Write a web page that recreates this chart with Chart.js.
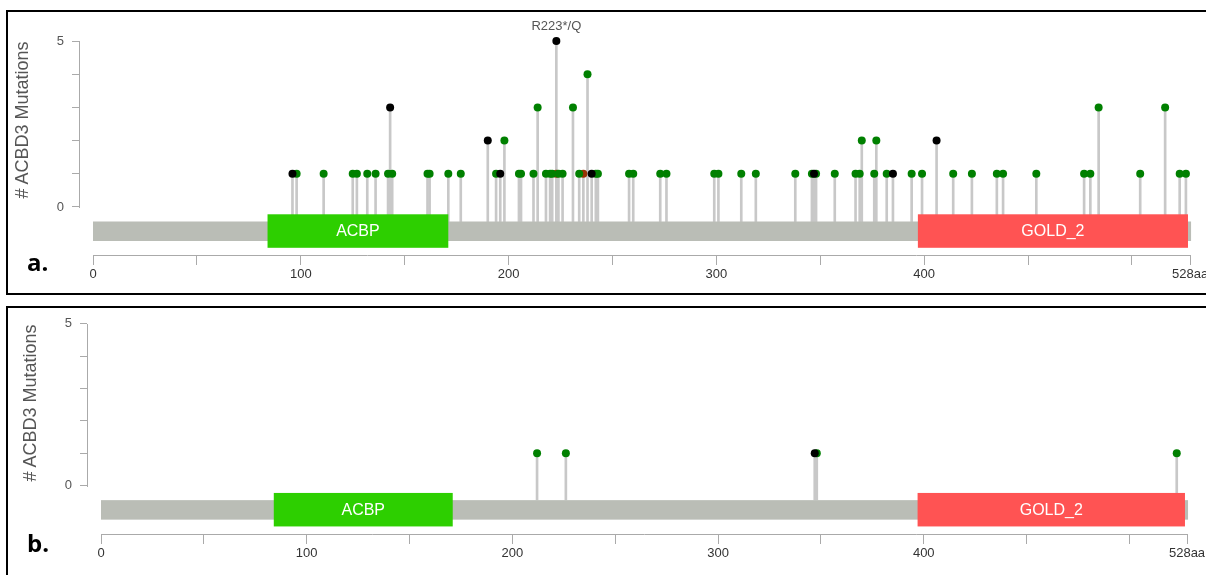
<!DOCTYPE html>
<html>
<head>
<meta charset="utf-8">
<script src="https://cdn.jsdelivr.net/npm/chart.js@4.4.1/dist/chart.umd.min.js"></script>
<style>
  html, body { margin: 0; padding: 0; background: #fff; overflow: hidden; }
  body { width: 1206px; height: 575px; position: relative; font-family: "Liberation Sans", Arial, sans-serif; }
  .panel { position: absolute; left: 6px; width: 1220px; border: 2px solid #000; }
  #panelA { top: 10px; height: 281px; }
  #panelB { top: 306px; height: 280px; }
  .panel canvas { position: absolute; left: 0; top: 0; }
  .ytitle { position: absolute; width: 200px; height: 20px; line-height: 20px; text-align: center;
            font-size: 18px; color: #555; transform: rotate(-90deg); white-space: nowrap; }
  .tag { position: absolute; font-family: "Open Sans", sans-serif; font-weight: 700; font-size: 24px; line-height: 1; color: #000; }
</style>
</head>
<body>
<div class="panel" id="panelA"><canvas id="chartA" width="1220" height="281"></canvas></div>
<div class="panel" id="panelB"><canvas id="chartB" width="1220" height="270"></canvas></div>
<div class="ytitle" style="left:-78px; top:110px;"># ACBD3 Mutations</div>
<div class="ytitle" style="left:-70px; top:393px;"># ACBD3 Mutations</div>
<div class="tag" style="left:27px; top:250px;">a.</div>
<div class="tag" style="left:27px; top:531px;">b.</div>
<script>
// protein
const proteinLength = 528;
const domainNames = ['ACBP', 'GOLD_2'];
const domainStarts = [84, 397];
const domainEnds = [171, 527];

// panel a - mutations per position
const missensePosA = [98, 111, 125, 127, 132, 136, 142, 144, 161, 162,
                      171, 177, 194, 198, 205, 206, 212, 214, 218, 220,
                      221, 224, 226, 231, 234, 238, 242, 243, 258, 260,
                      273, 276, 299, 301, 312, 319, 338, 346, 348, 357,
                      367, 369, 370, 376, 377, 382, 394, 399, 414, 423,
                      435, 438, 454, 477, 480, 484, 504, 516, 523, 526];
const missenseCountA = [1, 1, 1, 1, 1, 1, 1, 1, 1, 1,
                        1, 1, 1, 2, 1, 1, 1, 3, 1, 1,
                        1, 1, 1, 3, 1, 4, 1, 1, 1, 1,
                        1, 1, 1, 1, 1, 1, 1, 1, 1, 1,
                        1, 1, 2, 1, 2, 1, 1, 1, 1, 1,
                        1, 1, 1, 1, 1, 3, 1, 3, 1, 1];
const truncPosA = [96, 143, 190, 196, 223, 240, 347, 385, 406];
const truncCountA = [1, 3, 2, 1, 5, 1, 1, 1, 2];
const inframePosA = [223, 236];
const inframeCountA = [1, 1];
const labelPosA = [223];
const labelTextA = ['R223*/Q'];

// panel b
const missensePosB = [212, 226, 348, 523];
const missenseCountB = [1, 1, 1, 1];
const truncPosB = [347];
const truncCountB = [1];
const inframePosB = [];
const inframeCountB = [];

// axes
const xTickValues = [0, 50, 100, 150, 200, 250, 300, 350, 400, 450, 500, 528];
const xTickLabels = ['0', '', '100', '', '200', '', '300', '', '400', '', '', '528aa'];
const yTickValues = [0, 1, 2, 3, 4, 5];
const yTickLabels = ['0', '', '', '', '', '5'];

const domainColors = ['#2dcf00', '#ff5353'];
const BACKBONE = '#babdb6';
const AXIS = '#aaaaaa';
const STEM = '#c8c8c8';

const toPoints = (pos, cnt) => pos.map((p, i) => ({x: p, y: cnt[i]}));

const lollipopDecor = {
    id: 'lollipopDecor',
    afterDatasetsDraw(chart, args, opts) {
        const {ctx, scales: {x, y}} = chart;
        const y0 = y.getPixelForValue(0);
        ctx.save();
        // backbone
        ctx.fillStyle = BACKBONE;
        const bx = x.getPixelForValue(0);
        ctx.fillRect(bx, y0 + 14.5, x.getPixelForValue(proteinLength) - bx + 1, 19.5);
        // domains
        ctx.font = '16px "Liberation Sans", Arial, sans-serif';
        ctx.textAlign = 'center';
        ctx.textBaseline = 'middle';
        domainNames.forEach((name, i) => {
            const x1 = x.getPixelForValue(domainStarts[i]);
            const x2 = x.getPixelForValue(domainEnds[i]);
            ctx.fillStyle = domainColors[i];
            ctx.fillRect(x1, y0 + 7.3, x2 - x1, 33.5);
            ctx.fillStyle = '#fff';
            ctx.fillText(name, (x1 + x2) / 2, y0 + 24.5);
        });
        // labels over lollipops
        ctx.font = '13px "Liberation Sans", Arial, sans-serif';
        ctx.fillStyle = '#555';
        ctx.textBaseline = 'alphabetic';
        (opts.labelPos || []).forEach((p, i) => {
            const top = Math.max(...chart.data.datasets[3].data.filter(d => d.x === p).map(d => d.y));
            ctx.fillText(opts.labelText[i], x.getPixelForValue(p), y.getPixelForValue(top) - 11);
        });
        ctx.restore();
    },
    afterDraw(chart) {
        const {ctx, chartArea, scales: {x, y}} = chart;
        ctx.save();
        ctx.strokeStyle = AXIS;
        ctx.lineWidth = 1;
        ctx.beginPath();
        const lx = Math.round(chartArea.left) + 0.5;
        ctx.moveTo(lx, Math.round(y.getPixelForValue(5)));
        ctx.lineTo(lx, Math.round(y.getPixelForValue(0)) + 1);
        const by = Math.round(chartArea.bottom) + 0.5;
        ctx.moveTo(Math.round(x.getPixelForValue(0)), by);
        ctx.lineTo(Math.round(x.getPixelForValue(proteinLength)) + 1, by);
        ctx.stroke();
        ctx.restore();
    }
};

function makePanel(id, d, g) {
    const stems = [
        ...toPoints(d.missPos, d.missCnt),
        ...toPoints(d.truncPos, d.truncCnt),
        ...toPoints(d.infPos, d.infCnt),
    ];
    const dot = {type: 'scatter', pointRadius: 4, pointHoverRadius: 4, pointBorderWidth: 0, clip: false};
    return new Chart(document.getElementById(id), {
        type: 'scatter',
        data: {
            datasets: [
                {...dot, label: 'Truncating', data: toPoints(d.truncPos, d.truncCnt), backgroundColor: '#000000', order: 1},
                {...dot, label: 'Missense', data: toPoints(d.missPos, d.missCnt), backgroundColor: '#008000', order: 2},
                {...dot, label: 'Inframe', data: toPoints(d.infPos, d.infCnt), backgroundColor: '#993404', order: 3},
                {type: 'bar', label: 'stems', data: stems, backgroundColor: STEM, barThickness: 2, base: -0.44, order: 4},
            ],
        },
        options: {
            responsive: false,
            animation: false,
            events: [],
            layout: {padding: {top: g.top, right: 13, bottom: 0, left: 0}},
            plugins: {
                legend: {display: false},
                tooltip: {enabled: false},
                lollipopDecor: {labelPos: d.labelPos, labelText: d.labelText},
            },
            scales: {
                x: {
                    type: 'linear',
                    offset: false,
                    min: g.xMin,
                    max: g.xMax,
                    afterBuildTicks: (s) => { s.ticks = xTickValues.map((v) => ({value: v})); },
                    afterFit: (s) => { s.height = g.xHeight; },
                    ticks: {
                        autoSkip: false,
                        maxRotation: 0,
                        padding: 2,
                        color: '#333',
                        font: {size: 13, family: '"Liberation Sans", Arial, sans-serif'},
                        callback: (v) => xTickLabels[xTickValues.indexOf(v)] ?? '',
                    },
                    grid: {offset: false, drawOnChartArea: false, tickLength: 10, tickColor: AXIS},
                    border: {display: false},
                },
                y: {
                    type: 'linear',
                    min: g.yMin,
                    max: 5,
                    afterBuildTicks: (s) => { s.ticks = yTickValues.map((v) => ({value: v})); },
                    afterFit: (s) => { s.width = g.yWidth; },
                    ticks: {
                        padding: 8,
                        color: '#555',
                        font: {size: 13, family: '"Liberation Sans", Arial, sans-serif'},
                        callback: (v) => yTickLabels[yTickValues.indexOf(v)] ?? '',
                    },
                    grid: {drawOnChartArea: false, tickLength: 7, tickColor: AXIS},
                    border: {display: false},
                },
            },
        },
        plugins: [lollipopDecor],
    });
}

makePanel('chartA',
    {missPos: missensePosA, missCnt: missenseCountA, truncPos: truncPosA, truncCnt: truncCountA,
     infPos: inframePosA, infCnt: inframeCountA, labelPos: labelPosA, labelText: labelTextA},
    {top: 29, yWidth: 71, xHeight: 38, xMin: -6.74, xMax: 540.0, yMin: -1.446});

makePanel('chartB',
    {missPos: missensePosB, missCnt: missenseCountB, truncPos: truncPosB, truncCnt: truncCountB,
     infPos: inframePosB, infCnt: inframeCountB, labelPos: [], labelText: []},
    {top: 13, yWidth: 79, xHeight: 44, xMin: -6.81, xMax: 541.6, yMin: -1.494});
</script>
</body>
</html>
